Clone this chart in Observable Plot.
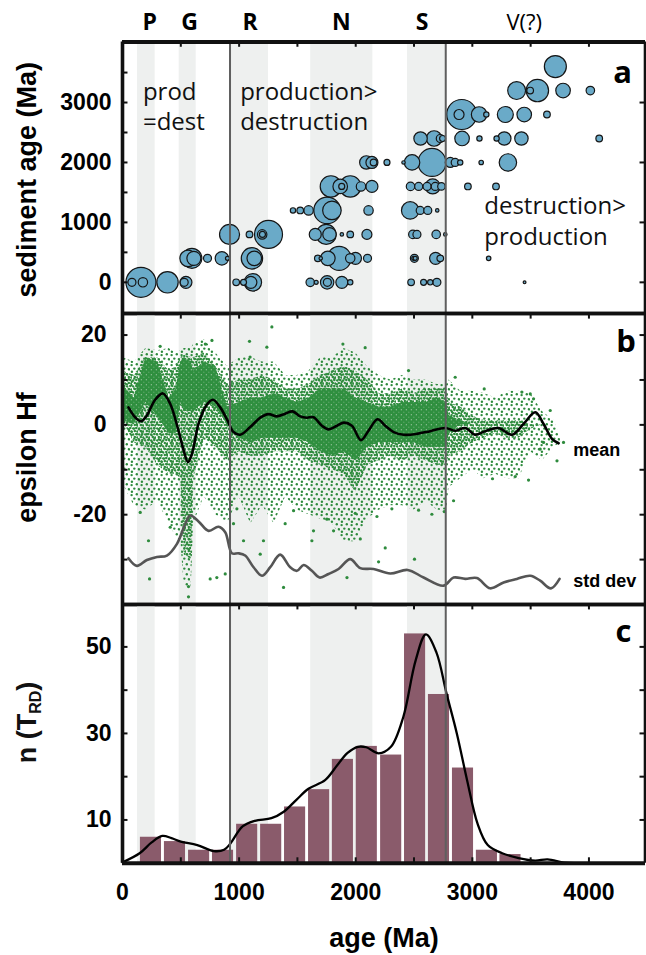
<!DOCTYPE html>
<html>
<head>
<meta charset="utf-8">
<script src="https://cdn.jsdelivr.net/npm/d3@7"></script>
<script src="https://cdn.jsdelivr.net/npm/@observablehq/plot@0.6"></script>
<style>
  html,body{margin:0;padding:0;background:#fff;}
  #chart{width:646px;height:955px;position:relative;overflow:hidden;}
  #chart svg{display:block;}
</style>
</head>
<body>
<svg width="0" height="0" style="position:absolute">
  <defs>
    <pattern id="dotsSparse" width="10" height="10" patternUnits="userSpaceOnUse">
      <circle cx="1.6" cy="2.1" r="1.2" fill="#2e8b3d"/>
      <circle cx="6.8" cy="1.2" r="1.2" fill="#2e8b3d"/>
      <circle cx="4.3" cy="5.6" r="1.2" fill="#2e8b3d"/>
      <circle cx="8.9" cy="6.3" r="1.2" fill="#2e8b3d"/>
      <circle cx="1.9" cy="8.7" r="1.2" fill="#2e8b3d"/>
    </pattern>
    <pattern id="dotsMid" width="6" height="6" patternUnits="userSpaceOnUse">
      <circle cx="1.2" cy="1.4" r="1.25" fill="#2e8b3d"/>
      <circle cx="4.3" cy="0.9" r="1.25" fill="#2e8b3d"/>
      <circle cx="2.8" cy="4.0" r="1.25" fill="#2e8b3d"/>
      <circle cx="5.4" cy="4.6" r="1.25" fill="#2e8b3d"/>
    </pattern>
    <pattern id="dotsDense" width="5" height="5" patternUnits="userSpaceOnUse">
      <rect width="5" height="5" fill="#2f8f3f"/>
      <circle cx="1.3" cy="1.8" r="0.55" fill="#d6e8d7"/>
      <circle cx="3.9" cy="4.1" r="0.45" fill="#d6e8d7"/>
    </pattern>
  </defs>
</svg>
<div id="chart"></div>
<script>
// ---------------- data ----------------
const XMAX = 4485;
const xTicks = [500, 1000, 1500, 2000, 2500, 3000, 3500, 4000];
const xLabels = [0, 1000, 2000, 3000, 4000];

// grey bands and boundary lines
const bandStart = [129, 486, 925, 1614, 2444];
const bandEnd   = [280, 632, 1252, 2147, 2776];
const boundaryAge = [922, 2772];
const eraLabel = ["P", "G", "R", "N", "S"];
const eraAge   = [233, 576, 1095, 1876, 2570];
const eraUncertainLabel = ["V(?)"];
const eraUncertainAge   = [3445];

// panel a: bubbles (age Ma, sediment age Ma, count)
const bubbleAge = [
  81,158,175,386,529,544,975,1038,1101,1118,1610,1661,1755,1757,1881,1953,2475,2582,2639,2696,3448,
  563,595,612,729,852,900,1110,1130,1675,1700,1761,1858,1953,1998,2101,2498,2503,2510,2685,2725,3140,
  918,1089,1198,1200,1252,1653,1747,1775,1881,1953,2096,2490,2525,2690,2768,
  1462,1524,1596,1755,1796,2110,2467,2553,2618,2699,
  1787,1867,1880,1953,2045,2139,2470,2540,2612,2660,2682,2735,2962,3203,
  2091,2139,2153,2268,2410,2483,2654,2811,2853,2896,3076,3305,
  2556,2672,2725,2745,2912,3061,3208,3274,3421,4088,
  2886,2909,3058,3120,3283,3445,3640,
  3380,3496,3558,3778,4012,
  3712
];
const bubbleSed = [
  0,0,0,0,0,0,0,0,0,0,0,0,0,0,0,0,0,0,0,0,0,
  400,400,400,400,400,400,400,400,400,400,400,400,400,400,400,400,400,400,400,400,400,
  800,800,800,800,800,800,800,800,800,800,800,800,800,800,800,
  1200,1200,1200,1200,1200,1200,1200,1200,1200,1200,
  1600,1600,1600,1600,1600,1600,1600,1600,1600,1600,1600,1600,1600,1600,
  2000,2000,2000,2000,2000,2000,2000,2000,2000,2000,2000,2000,
  2400,2400,2400,2400,2400,2400,2400,2400,2400,2400,
  2800,2800,2800,2800,2800,2800,2800,
  3200,3200,3200,3200,3200,
  3600
];
const bubbleN = [
  16,225,22,114,16,36,11,9,36,76,18,4,45,16,36,7,11,9,7,16,2,
  69,100,49,16,45,4,114,53,11,3,53,144,22,36,16,4,16,4,36,11,5,
  100,11,22,9,196,36,100,45,3,11,25,18,16,18,3,
  7,11,22,177,86,22,76,16,16,3,
  114,53,9,114,22,36,18,16,16,56,16,14,11,11,
  45,36,11,9,3,60,196,25,16,7,5,76,
  45,60,16,9,53,7,7,45,45,11,
  25,225,60,7,64,53,11,
  80,11,125,53,18,
  121
];

// panel b: epsilon Hf point-cloud envelopes (outer / middle / core), outliers, mean and std dev
const cloudAge       = [0,100,200,300,400,460,500,530,590,610,700,800,900,1000,1100,1200,1300,1400,1500,1600,1700,1800,1900,2000,2100,2200,2300,2400,2500,2600,2700,2780,2800,2900,3000,3100,3200,3300,3400,3500,3600,3700,3760];
const cloudSparseTop = [15,14,17,16.5,17,16,16.5,17,17,18,19,16,13,15,15,14,14,11,11,12,15,15,17,16,13,11,10,11,10,10,9,9,10,7.5,7.5,7,6,7.5,7.5,7,3,1,-3];
const cloudMidTop    = [12,11,15,15,12,13,15,15.5,15,15,16,13,9,10,10,11,10,8,8,9,11,12,13,12,10,7,7,8,7,8,8,8,5,4,2,1,1,1,1,0,0,-3,-3];
const cloudCoreTop   = [9,6,15,14,6,8,14,15,14,12,14,13,4,5,6,6,7,6,5,6,8,8,8,6,5,4,4,5,5,5,6,5,2,1,0,0,0,0,0,0,0,-3,-3];
const cloudCoreBot   = [1,0,5,2,-2,-2,5,3,3,3,5,4,0,-3,-4,-3,-3,-3,-3,-4,-6,-7,-6,-8,-5,-4,-4,-4,-4,-5,-5,-5,-2,0,0,0,0,0,0,0,0,-3,-3];
const cloudMidBot    = [1,-4,-5,-9,-11,-11,-12,-29,-30,-12,-3,-5,-8,-6,-7,-7,-6,-6,-6,-8,-9,-10,-11,-15,-9,-8,-7,-8,-7,-8,-9,-9,-7,-6,-4,-3,-2,-3,-3,-1,0,-3,-3];
const cloudSparseBot = [-13,-18,-19,-17,-22,-25,-26,-36,-36,-22,-16,-20,-22,-16,-22,-18,-22,-16,-19,-20,-21,-22,-26,-26,-21,-19,-18,-18,-19,-17,-19,-19,-14,-12,-10,-12,-11,-12,-12,-6,-8,-5,-4];
const outlierAge = [1281,1089,1238,1094,323,767,710,232,752,809,881,566,566,1381,223,152,409,952,1038,1181,1209,1395,1624,1638,1753,1810,1467,981,1890,2081,2453,2853,3102,1996,2039,2253,2196,1925,2504,2539,2653,2759,2182,2310,3482,3368,3173,2839,3726,3668,3611,3582,3425,3497,3525,3782];
const outlierEps = [21.8,18.6,17.3,15.1,17.5,18.8,18,-34.3,-34.3,-34,-33.2,-36,-38.3,-36.2,-25.8,-19.5,-22.8,-22,-25.8,-28.8,-25.8,-22,-25.8,-23.6,-21,-23.6,-19.1,-18.7,18,17.2,12.1,10.6,8,-19.7,-25.4,-27.4,-30.5,-34,-29.9,-19,-19.9,-19.3,-20.4,-18.7,-12.3,-11.5,-12,-16.9,-8,3.2,-3.9,-5.4,7.3,6.9,5.8,-3.9];
const meanAge = [51,108,158,209,280,346,409,480,529,561,595,652,718,775,838,900,952,1009,1095,1181,1252,1324,1395,1458,1524,1581,1638,1710,1767,1839,1898,1967,2045,2110,2187,2253,2325,2411,2525,2639,2768,2853,2939,3025,3110,3225,3340,3439,3540,3611,3683,3740];
const meanEps = [3.9,1.7,0.8,2.1,5.6,7.0,4.7,-1.3,-6.1,-8.3,-6.5,0.2,4.3,5.6,3.9,1.0,-1.6,-2.2,-0.5,1.6,2.4,1.9,2.5,3.0,1.9,1.6,1.7,-0.2,-1.0,-0.2,0.5,-0.2,-3.4,-1.3,1.25,-0.2,-1.6,-2.2,-2.0,-1.4,-0.7,-1.3,-0.7,-2.2,-1.4,-0.7,-2.2,0.2,2.8,0.2,-3.1,-4.1];
const sdAge = [51,123,209,295,381,467,538,581,652,738,823,881,938,995,1052,1124,1196,1267,1352,1438,1496,1553,1624,1690,1767,1853,1953,2039,2153,2296,2445,2582,2754,2839,2939,3039,3153,3268,3382,3497,3582,3674,3748];
const sdEps = [-29.7,-31.4,-30.1,-29.4,-29.1,-26.5,-22.1,-20.2,-21.5,-23.6,-22.7,-23.9,-28.6,-28.6,-29.1,-31.7,-33.6,-31.7,-28.9,-31.7,-32.5,-31.2,-32.5,-34.0,-33.2,-32.1,-29.9,-31.9,-32.1,-33.1,-32.3,-34.0,-35.8,-34.0,-34.3,-34.1,-36.4,-35.1,-34.3,-33.6,-34.7,-36.4,-34.3];

// panel c: histogram of T_RD ages and density curve
const binCenter = [244,450,657,862,1069,1275,1480,1686,1890,2095,2304,2509,2714,2920,3125,3327];
const binCount  = [6,5,3,3,9,9,13,17,24,27,25,53,39,22,3,2];
const binWidth = 205;
const kdeAge = [0,147,250,341,420,500,641,783,871,924,1030,1136,1277,1383,1489,1595,1737,1843,1930,2019,2090,2196,2302,2408,2514,2602,2691,2779,2867,2955,3044,3132,3256,3397,3539,3645,3786,3892,4000];
const kdeN   = [0.2,2.3,4.8,6.3,5.8,5.0,4.2,2.8,3.1,4.5,8.5,9.8,10.4,11.9,14.6,17.2,19.2,22.7,25.5,26.9,26.8,25.4,26.9,33.8,46.9,52.9,48.8,39.2,30,19.2,9.2,4.2,2.3,1.2,0.6,0.9,0.15,0,0];

// ---------------- build ----------------
const AX = "Liberation Sans, Arial, Helvetica, sans-serif";
const HUM = "Open Sans, Noto Sans, sans-serif";
const GREEN = "#2e8b3d";
const bands = bandStart.map((s, i) => ({start: s, end: bandEnd[i]}));
const bubbles = bubbleAge.map((a, i) => ({age: a, sed: bubbleSed[i], n: bubbleN[i]})).sort((a, b) => b.n - a.n);
const cloud = cloudAge.map((a, i) => ({age: a, st: cloudSparseTop[i], mt: cloudMidTop[i], ct: cloudCoreTop[i], cb: cloudCoreBot[i], mb: cloudMidBot[i], sb: cloudSparseBot[i]}));
const outliers = outlierAge.map((a, i) => ({age: a, eps: outlierEps[i]}));
const meanLine = meanAge.map((a, i) => ({age: a, eps: meanEps[i]}));
const sdLine = sdAge.map((a, i) => ({age: a, eps: sdEps[i]}));
const bins = binCenter.map((c, i) => ({c, n: binCount[i]}));
const kde = kdeAge.map((a, i) => ({age: a, n: kdeN[i]}));

const TL = 47; // tick length in Ma (about 5.5px)
function frame(yMin, yMax, leftTicks, rightTicks, tickLenY, topW, botW, bottomUpTicks) {
  const marks = [
    Plot.ruleX(boundaryAge, {stroke: "#5f5f5f", strokeWidth: 2}),
    Plot.ruleY(leftTicks, {y: d => d, x1: 0, x2: TL, stroke: "#111", strokeWidth: 2}),
    Plot.ruleY(rightTicks, {y: d => d, x1: XMAX - TL, x2: XMAX, stroke: "#111", strokeWidth: 2}),
    Plot.ruleX(xTicks, {x: d => d, y1: yMax, y2: yMax - tickLenY, stroke: "#111", strokeWidth: 2}),
    Plot.ruleX([0], {stroke: "#111", strokeWidth: 3.6}),
    Plot.ruleX([XMAX], {stroke: "#111", strokeWidth: 3.6}),
    Plot.ruleY([yMax], {stroke: "#111", strokeWidth: topW}),
    Plot.ruleY([yMin], {stroke: "#111", strokeWidth: botW})
  ];
  if (bottomUpTicks) marks.push(Plot.ruleX(xTicks, {x: d => d, y1: yMin, y2: yMin + tickLenY, stroke: "#111", strokeWidth: 2}));
  return marks;
}
const svgStyle = {background: "transparent", overflow: "visible"};
const noteStyle = {textAnchor: "start", lineAnchor: "bottom", fontSize: 24, fontFamily: HUM, fill: "#111"};

// panel a
const yA = [-520, 4010];
const plotA = Plot.plot({
  width: 646, height: 313, marginLeft: 122, marginRight: 1, marginTop: 41.5, marginBottom: 0,
  style: svgStyle,
  x: {domain: [0, XMAX], axis: null},
  y: {domain: yA},
  r: {type: "sqrt", domain: [0, 225], range: [0, 15]},
  marks: [
    Plot.rect(bands, {x1: "start", x2: "end", fill: "#eef0ef"}),
    Plot.dot(bubbles, {x: "age", y: "sed", r: "n", fill: "#6aaac8", stroke: "#151515", strokeWidth: 1.2}),
    ...frame(yA[0], yA[1], [0,500,1000,1500,2000,2500,3000,3500], [0,1000,2000,3000], 88, 4, 3.3, false),
    Plot.axisY({ticks: [0,1000,2000,3000], tickSize: 0, tickPadding: 11, tickFormat: d => String(d), fontSize: 23, fontWeight: "bold", fontFamily: AX, label: null}),
    Plot.text(["sediment age (Ma)"], {frameAnchor: "left", rotate: -90, dx: -86.5, dy: 2, textAnchor: "middle", lineAnchor: "bottom", fontSize: 27, fontWeight: "bold", fontFamily: AX}),
    Plot.text(eraLabel, {x: (d, i) => eraAge[i], text: d => d, frameAnchor: "top", dy: -12.5, lineAnchor: "bottom", textAnchor: "middle", fontSize: 23, fontWeight: "bold", fontFamily: HUM}),
    Plot.text(eraUncertainLabel, {x: (d, i) => eraUncertainAge[i], text: d => d, frameAnchor: "top", dy: -12.5, lineAnchor: "bottom", textAnchor: "middle", fontSize: 22, fontFamily: HUM}),
    Plot.text(["prod\n=dest"], {x: 175, y: 2537, lineHeight: 1.25, ...noteStyle}),
    Plot.text(["production>\ndestruction"], {x: 1009, y: 2537, lineHeight: 1.28, ...noteStyle}),
    Plot.text(["destruction>\nproduction"], {x: 3102, y: 629, lineHeight: 1.26, ...noteStyle}),
    Plot.text(["a"], {frameAnchor: "top-right", dx: -23, dy: 40.5, textAnchor: "middle", lineAnchor: "bottom", fontSize: 31, fontWeight: "bold", fontFamily: HUM})
  ]
});

// panel b
const yB = [-40, 24.8];
const plotB = Plot.plot({
  width: 646, height: 291, marginLeft: 122, marginRight: 1, marginTop: 0, marginBottom: 0,
  style: svgStyle,
  x: {domain: [0, XMAX], axis: null},
  y: {domain: yB},
  marks: [
    Plot.rect(bands, {x1: "start", x2: "end", fill: "#eef0ef"}),
    Plot.areaY(cloud, {x: "age", y1: "sb", y2: "st", fill: "url(#dotsSparse)"}),
    Plot.areaY(cloud, {x: "age", y1: "mb", y2: "mt", fill: "url(#dotsMid)"}),
    Plot.areaY(cloud, {x: "age", y1: "cb", y2: "ct", fill: "url(#dotsDense)"}),
    Plot.dot(outliers, {x: "age", y: "eps", r: 1.6, fill: GREEN}),
    Plot.line(sdLine, {x: "age", y: "eps", stroke: "#555", strokeWidth: 2.6, curve: "catmull-rom"}),
    Plot.line(meanLine, {x: "age", y: "eps", stroke: "#000", strokeWidth: 2.6, curve: "catmull-rom"}),
    ...frame(yB[0], yB[1], [20,10,0,-10,-20,-30], [20,10,0,-10,-20,-30], 1.25, 3.3, 3.3, false),
    Plot.axisY({ticks: [20, 0, -20], tickSize: 0, tickPadding: 16, tickFormat: d => String(d), fontSize: 23, fontWeight: "bold", fontFamily: AX, label: null}),
    Plot.text(["epsilon Hf"], {frameAnchor: "left", rotate: -90, dx: -86.5, dy: -1.5, textAnchor: "middle", lineAnchor: "bottom", fontSize: 27, fontWeight: "bold", fontFamily: AX}),
    Plot.text(["mean"], {x: 3866, y: -6.85, textAnchor: "start", lineAnchor: "bottom", fontSize: 18, fontWeight: "bold", fontFamily: AX}),
    Plot.text(["std dev"], {x: 3866, y: -36.05, textAnchor: "start", lineAnchor: "bottom", fontSize: 18, fontWeight: "bold", fontFamily: AX}),
    Plot.text(["b"], {frameAnchor: "top-right", dx: -19.5, dy: 38.7, textAnchor: "middle", lineAnchor: "bottom", fontSize: 31, fontWeight: "bold", fontFamily: HUM})
  ]
});

// panel c
const yC = [0, 59.8];
const plotC = Plot.plot({
  width: 646, height: 351, marginLeft: 122, marginRight: 1, marginTop: 0, marginBottom: 92.3,
  style: svgStyle,
  x: {domain: [0, XMAX]},
  y: {domain: yC},
  marks: [
    Plot.rect(bands, {x1: "start", x2: "end", fill: "#eef0ef"}),
    Plot.rectY(bins, {x1: d => d.c - binWidth / 2, x2: d => d.c + binWidth / 2, y: "n", fill: "#8a5b6b", insetLeft: 1.4, insetRight: 1.4}),
    Plot.line(kde, {x: "age", y: "n", stroke: "#000", strokeWidth: 2.3, curve: "catmull-rom"}),
    ...frame(yC[0], yC[1], [10,20,30,40,50], [10,20,30,40,50], 1.25, 3.3, 4, true),
    Plot.axisY({ticks: [10, 30, 50], tickSize: 0, tickPadding: 11, tickFormat: d => String(d), fontSize: 23, fontWeight: "bold", fontFamily: AX, label: null}),
    Plot.axisX({ticks: xLabels, tickSize: 0, tickPadding: 20, tickFormat: d => String(d), fontSize: 23, fontWeight: "bold", fontFamily: AX, label: null}),
    Plot.text(["age (Ma)"], {frameAnchor: "bottom", dy: 83.5, textAnchor: "middle", lineAnchor: "bottom", fontSize: 27, fontWeight: "bold", fontFamily: AX}),
    Plot.text(["c"], {frameAnchor: "top-right", dx: -22, dy: 37.7, textAnchor: "middle", lineAnchor: "bottom", fontSize: 31, fontWeight: "bold", fontFamily: HUM})
  ]
});

// y title with subscript for panel c
const tC = d3.select(plotC).append("text")
  .attr("transform", "translate(35.5,118.5) rotate(-90)")
  .attr("text-anchor", "middle")
  .attr("font-family", AX).attr("font-weight", "bold").attr("font-size", 27).attr("fill", "#111");
tC.append("tspan").text("n (T");
tC.append("tspan").attr("font-size", 16).attr("dy", 5).text("RD");
tC.append("tspan").attr("dy", -5).text(")");

const chart = document.getElementById("chart");
chart.appendChild(plotA);
chart.appendChild(plotB);
chart.appendChild(plotC);
</script>
</body>
</html>
